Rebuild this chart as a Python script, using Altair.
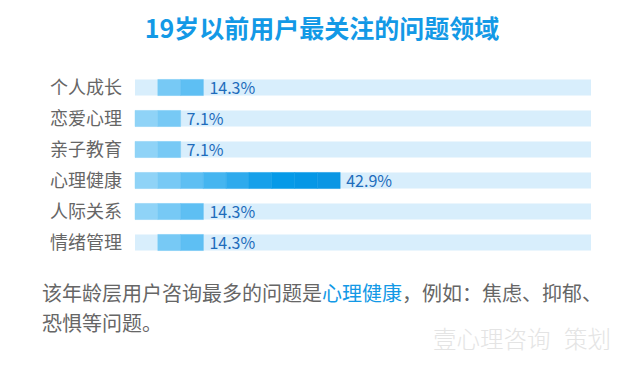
import altair as alt
import pandas as pd

categories = ["个人成长", "恋爱心理", "亲子教育", "心理健康", "人际关系", "情绪管理"]
values = [14.3, 7.1, 7.1, 42.9, 14.3, 14.3]
labels = ["14.3%", "7.1%", "7.1%", "42.9%", "14.3%", "14.3%"]
segments = [3, 2, 2, 9, 3, 3]
first_shown = [False, True, True, True, True, False]
seg_colors = ["#8fd3f7", "#77c9f5", "#5ebff3", "#45b5f0", "#2eaaed",
              "#16a0ea", "#059ae8", "#0597e6", "#0a96e4"]
seg_step = 5

FONT = "Noto Sans CJK SC"

rows = []
for c, n, f in zip(categories, segments, first_shown):
    for k in range(1, n + 1):
        if k == 1 and not f:
            continue
        rows.append({"cat": c, "k": k, "x": (k - 1) * seg_step, "x2": k * seg_step})
seg_df = pd.DataFrame(rows)

base_df = pd.DataFrame({
    "cat": categories, "value": values, "label": labels,
    "end": [n * seg_step for n in segments], "full": [100] * len(categories),
    "zero": [0] * len(categories),
})

yscale = alt.Scale(domain=categories, paddingInner=0.48, paddingOuter=0.24)
xscale = alt.Scale(domain=[0, 100], nice=False, zero=True)
Y = alt.Y("cat:N", scale=yscale, axis=None, sort=categories)

bg = alt.Chart(base_df).mark_bar(color="#d8eefc", cornerRadius=0).encode(
    x=alt.X("zero:Q", scale=xscale, axis=None), x2="full:Q", y=Y)

seg_scale = alt.Scale(domain=list(range(1, 10)), range=seg_colors)
segs = alt.Chart(seg_df).mark_bar(strokeWidth=0.6, strokeOpacity=0.7).encode(
    x=alt.X("x:Q", scale=xscale, axis=None), x2="x2:Q", y=Y,
    color=alt.Color("k:O", scale=seg_scale, legend=None),
    stroke=alt.Stroke("k:O", scale=seg_scale, legend=None))

pct = alt.Chart(base_df).mark_text(align="left", baseline="middle", dx=6, dy=1,
                                   font=FONT, fontSize=16, color="#1e6cbb").encode(
    x=alt.X("end:Q", scale=xscale, axis=None), y=Y, text="label:N")

cat_lbl = alt.Chart(base_df).mark_text(align="right", baseline="middle", font=FONT,
                                       fontSize=18, color="#666666", dy=1).encode(
    x=alt.value(-13), y=Y, text="cat:N")

title_df = pd.DataFrame({"t": ["19岁以前用户最关注的问题领域"]})
title = alt.Chart(title_df).mark_text(align="center", baseline="middle", font=FONT,
                                      fontSize=25, fontWeight="bold", color="#1399e6").encode(
    x=alt.value(187), y=alt.value(-42), text="t:N")

para1 = ["该年龄层用户咨询最多的问题是", "心理健康", "，例如：焦虑、抑郁、"]
para1_x = [-93, 187, 267]
para1_c = ["#666666", "#1399e6", "#666666"]
para_layers = []
for t, px, col in zip(para1, para1_x, para1_c):
    para_layers.append(alt.Chart(pd.DataFrame({"t": [t]})).mark_text(
        align="left", baseline="middle", font=FONT, fontSize=20, color=col).encode(
        x=alt.value(px), y=alt.value(223), text="t:N"))
para_layers.append(alt.Chart(pd.DataFrame({"t": ["恐惧等问题。"]})).mark_text(
    align="left", baseline="middle", font=FONT, fontSize=20, color="#666666").encode(
    x=alt.value(-93), y=alt.value(253), text="t:N"))

wm_texts = ["壹心理咨询", "策划"]
wm_x = [298, 429]
wm_layers = []
for t, px in zip(wm_texts, wm_x):
    wm_layers.append(alt.Chart(pd.DataFrame({"t": [t]})).mark_text(
        align="left", baseline="middle", font=FONT, fontSize=23.5, fontWeight=300,
        color="#e4e4e4").encode(
        x=alt.value(px), y=alt.value(269), text="t:N"))

chart = alt.layer(bg, segs, pct, cat_lbl, title, *para_layers, *wm_layers).properties(
    width=456, height=186,
    autosize=alt.AutoSizeParams(type="none"),
    padding={"left": 127, "top": 64, "right": 40, "bottom": 100},
).configure(background="#ffffff").configure_view(stroke=None, strokeWidth=0)

chart.save("out.html", embed_options={"renderer": "svg", "actions": False})
